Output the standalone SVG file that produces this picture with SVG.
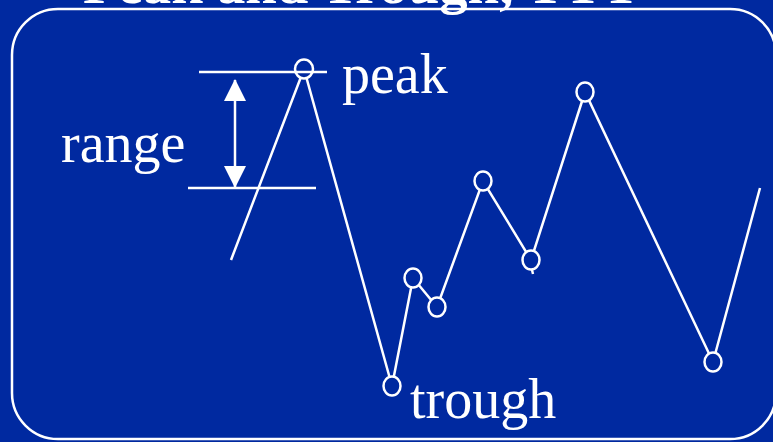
<svg xmlns="http://www.w3.org/2000/svg" width="773" height="442" viewBox="0 0 773 442">
<style>
.ln{stroke:#fff;stroke-width:2.5;fill:none}
.pt{stroke:#fff;stroke-width:2.5;fill:#0029a0}
.lbl{font-family:"Liberation Serif","Times New Roman",serif;font-size:56px;fill:#fff}
.ttl{font-family:"Liberation Serif","Times New Roman",serif;font-size:56px;font-weight:bold;fill:#fff}
</style>
<defs>
<marker id="ah" viewBox="0 0 22 22" refX="21" refY="11" markerWidth="22" markerHeight="22" markerUnits="userSpaceOnUse" orient="auto-start-reverse">
<path d="M0,0 L22,11 L0,22 Z" fill="#fff"/>
</marker>
</defs>
<rect x="0" y="0" width="773" height="442" fill="#0029a0"/>
<text class="ttl" x="83" y="3" textLength="557" lengthAdjust="spacingAndGlyphs">Peak and Trough, TTT</text>
<rect x="12" y="9" width="764" height="430" rx="46" ry="46" class="ln" stroke-width="3"/>
<g id="connectors">
<polyline class="ln" points="231,260 304,69 392,386 413,278 437,307 483,181 531,260 585,92 713,362 760,188"/>
<line class="ln" x1="531" y1="266" x2="533" y2="274"/>
</g>
<g id="range-lines">
<line class="ln" x1="199" y1="72" x2="327" y2="72"/>
<line class="ln" x1="188" y1="188" x2="316" y2="188"/>
<line class="ln" x1="235" y1="80" x2="235" y2="187" marker-start="url(#ah)" marker-end="url(#ah)"/>
</g>
<g id="peak"><ellipse class="pt" cx="304" cy="69" rx="9" ry="9.5"/><line class="ln" x1="295" y1="72" x2="313" y2="72"/></g>
<g id="trough"><ellipse class="pt" cx="392" cy="386" rx="8.5" ry="9.5"/></g>
<g id="p3"><ellipse class="pt" cx="413" cy="278" rx="8.5" ry="9.5"/></g>
<g id="p4"><ellipse class="pt" cx="437" cy="307" rx="8.5" ry="9.5"/></g>
<g id="p5"><ellipse class="pt" cx="483" cy="181" rx="8.5" ry="9.5"/></g>
<g id="p6"><ellipse class="pt" cx="531" cy="260" rx="8.5" ry="9.5"/></g>
<g id="p7"><ellipse class="pt" cx="585" cy="92" rx="8.5" ry="9.5"/></g>
<g id="p8"><ellipse class="pt" cx="713" cy="362" rx="8.5" ry="9.5"/></g>
<text class="lbl" x="342" y="93">peak</text>
<text class="lbl" x="61" y="162">range</text>
<text class="lbl" x="410" y="418">trough</text>
</svg>
